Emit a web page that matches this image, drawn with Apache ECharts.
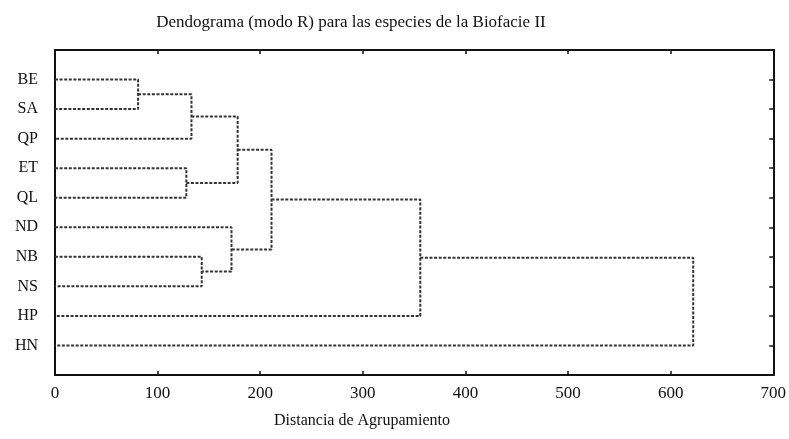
<!DOCTYPE html>
<html>
<head>
<meta charset="utf-8">
<script src="https://cdn.jsdelivr.net/npm/echarts@6/dist/echarts.min.js"></script>
<style>html,body{margin:0;padding:0;background:#fff}#c{width:789px;height:439px}</style>
</head>
<body>
<div id="c"></div>
<script>
// Leaves, top to bottom
const categories = ['BE', 'SA', 'QP', 'ET', 'QL', 'ND', 'NB', 'NS', 'HP', 'HN'];
// Merges: [left member, right member, linkage distance]; numbers refer to earlier merges (0-based)
const mergeLeft   = ['BE', 0,   'ET', 1,   'NB', 'ND', 3,   6,   7];
const mergeRight  = ['SA', 'QP', 'QL', 2,  'NS', 4,   5,   'HP', 'HN'];
const mergeDist   = [81,   133,  128,  178, 143,  172, 211, 356, 622];
const xTicks = [0, 100, 200, 300, 400, 500, 600, 700];

const n = categories.length;
const pos = []; // [height, y] for each merge
function node(ref) {
  if (typeof ref === 'string') return [0, n - categories.indexOf(ref)];
  return pos[ref];
}
const series = [];
for (let i = 0; i < mergeDist.length; i++) {
  const a = node(mergeLeft[i]), b = node(mergeRight[i]);
  const d = mergeDist[i];
  pos.push([d, (a[1] + b[1]) / 2]);
  series.push({
    type: 'line',
    data: [[a[0], a[1]], [d, a[1]], [d, b[1]], [b[0], b[1]]],
    symbol: 'none',
    silent: true,
    animation: false,
    lineStyle: { color: '#333', width: 2, type: [3, 1.6] }
  });
}

const chart = echarts.init(document.getElementById('c'));
const axisLine = { show: true, onZero: false, lineStyle: { color: '#111', width: 2 } };
const serif = 'Liberation Serif';
chart.setOption({
  animation: false,
  title: {
    text: 'Dendograma (modo R) para las especies de la Biofacie II',
    left: 346, top: 9, textAlign: 'center',
    textStyle: { fontFamily: serif, fontSize: 17, fontWeight: 'normal', color: '#111' }
  },
  graphic: [{
    type: 'text', left: 274, top: 413,
    style: { text: 'Distancia de Agrupamiento', font: '16px "Liberation Serif"', fill: '#111' }
  }],
  grid: { left: 55, right: 11, top: 50, bottom: 64 },
  xAxis: [{
    type: 'value', min: 0, max: 700, interval: 100, position: 'bottom',
    axisLine: axisLine,
    axisTick: { show: true, inside: true, length: 4, lineStyle: { color: '#111', width: 1.5 } },
    axisLabel: { fontFamily: serif, fontSize: 17, color: '#111', margin: 10,
      formatter: v => xTicks.includes(v) ? String(v) : '' },
    splitLine: { show: false }
  }, {
    type: 'value', min: 0, max: 700, interval: 100, position: 'top',
    axisLine: axisLine,
    axisTick: { show: true, inside: true, length: 4, lineStyle: { color: '#111', width: 1.5 } },
    axisLabel: { show: false }, splitLine: { show: false }
  }],
  yAxis: [{
    type: 'value', min: 0, max: n + 1, interval: 1, position: 'left',
    axisLine: axisLine,
    axisTick: { show: false },
    axisLabel: { fontFamily: serif, fontSize: 16, color: '#111', margin: 17,
      formatter: v => (v >= 1 && v <= n) ? categories[n - v] : '' },
    splitLine: { show: false }
  }, {
    type: 'value', min: 0, max: n + 1, interval: 1, position: 'right',
    axisLine: axisLine,
    axisTick: { show: true, inside: true, length: 4, lineStyle: { color: '#111', width: 1.5 } },
    axisLabel: { show: false }, splitLine: { show: false }
  }],
  series: series
});
</script>
</body>
</html>
